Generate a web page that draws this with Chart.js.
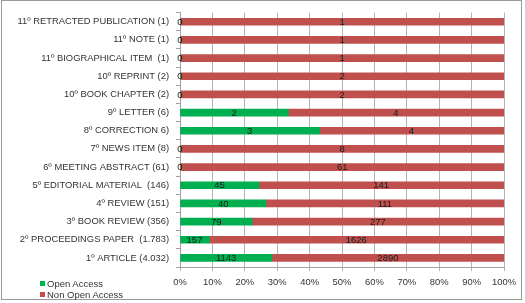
<!DOCTYPE html>
<html>
<head>
<meta charset="utf-8">
<script src="https://cdn.jsdelivr.net/npm/chart.js@4.4.0/dist/chart.umd.min.js"></script>
<style>
  html, body { margin: 0; padding: 0; background: #fff; }
  #wrap { position: relative; width: 525px; height: 303px; }
  #frame { position: absolute; left: 1px; top: 0; width: 521px; height: 300px; box-sizing: border-box; border: 1px solid #9a9a9a; pointer-events: none; }
  .legend { position: absolute; left: 40px; font: 9.5px "Liberation Sans", Arial, sans-serif; color: #333; }
  .legend div { height: 11px; line-height: 11px; white-space: nowrap; }
  .dot { display: inline-block; width: 5px; height: 5px; margin-right: 2px; vertical-align: 1px; }
</style>
</head>
<body>
<div id="wrap">
  <canvas id="chart" width="525" height="303"></canvas>
  <div id="frame"></div>
  <div class="legend" style="top:278px">
    <div><span class="dot" style="background:#00b050"></span>Open Access</div>
    <div><span class="dot" style="background:#c0504d"></span>Non Open Access</div>
  </div>
</div>
<script>
const categories = [
  '11º RETRACTED PUBLICATION (1)',
  '11º NOTE (1)',
  '11º BIOGRAPHICAL ITEM  (1)',
  '10º REPRINT (2)',
  '10º BOOK CHAPTER (2)',
  '9º LETTER (6)',
  '8º CORRECTION 6)',
  '7º NEWS ITEM (8)',
  '6º MEETING ABSTRACT (61)',
  '5º EDITORIAL MATERIAL  (146)',
  '4º REVIEW (151)',
  '3º BOOK REVIEW (356)',
  '2º PROCEEDINGS PAPER  (1.783)',
  '1º ARTICLE (4.032)'
];
const openAccess = [0, 0, 0, 0, 0, 2, 3, 0, 0, 45, 40, 79, 157, 1143];
const nonOpenAccess = [1, 1, 1, 2, 2, 4, 4, 8, 61, 141, 111, 277, 1626, 2890];
const xTicks = [0, 10, 20, 30, 40, 50, 60, 70, 80, 90, 100];

const totals = openAccess.map((v, i) => v + nonOpenAccess[i]);
const pct = arr => arr.map((v, i) => v / totals[i] * 100);
const rawValues = [openAccess, nonOpenAccess];

// draw the raw counts in the middle of each segment
const valueLabels = {
  id: 'valueLabels',
  afterDatasetsDraw(chart) {
    const ctx = chart.ctx;
    ctx.save();
    ctx.font = '9.5px "Liberation Sans", Arial, sans-serif';
    ctx.fillStyle = '#1a1a1a';
    ctx.textAlign = 'center';
    ctx.textBaseline = 'middle';
    chart.data.datasets.forEach((ds, di) => {
      chart.getDatasetMeta(di).data.forEach((bar, i) => {
        const p = bar.getProps(['x', 'base', 'y'], true);
        ctx.fillText(rawValues[di][i], (p.x + p.base) / 2, p.y + 0.5);
      });
    });
    ctx.restore();
  }
};

const font = { family: '"Liberation Sans", Arial, sans-serif', size: 9.4 };

new Chart(document.getElementById('chart'), {
  type: 'bar',
  data: {
    labels: categories,
    datasets: [
      { label: 'Open Access', data: pct(openAccess), backgroundColor: '#00b050', barThickness: 7 },
      { label: 'Non Open Access', data: pct(nonOpenAccess), backgroundColor: '#c0504d', barThickness: 7 }
    ]
  },
  options: {
    indexAxis: 'y',
    responsive: false,
    animation: false,
    layout: { padding: { top: 1, right: 21, bottom: 0, left: 0 } },
    scales: {
      x: {
        stacked: true,
        min: 0,
        max: 100,
        afterBuildTicks: scale => { scale.ticks = xTicks.map(v => ({ value: v })); },
        afterFit: scale => { scale.height = 36; },
        ticks: { color: '#333', font, padding: 6, callback: v => v + '%' },
        grid: { color: '#b4b4b4', tickLength: 4 },
        border: { color: '#a0a0a0' }
      },
      y: {
        stacked: true,
        afterFit: scale => { scale.width = 180; },
        ticks: { color: '#333', font, padding: 7, autoSkip: false },
        grid: { drawOnChartArea: false, color: '#a0a0a0', tickLength: 4, offset: true },
        border: { color: '#a0a0a0' }
      }
    },
    plugins: {
      legend: { display: false },
      tooltip: { enabled: false }
    }
  },
  plugins: [valueLabels]
});
</script>
</body>
</html>
